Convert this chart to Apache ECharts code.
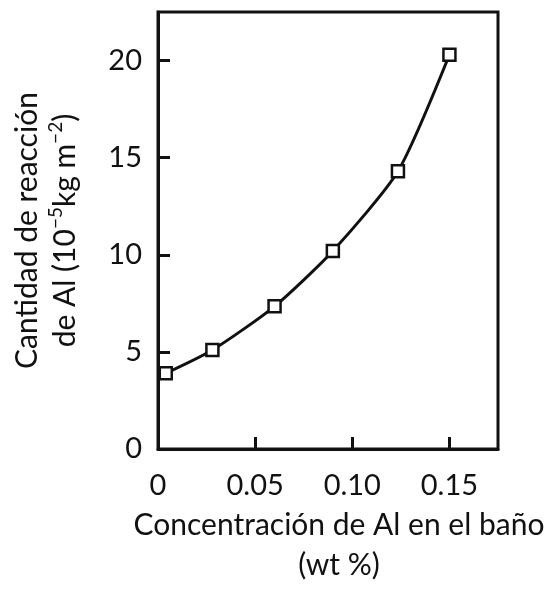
<!DOCTYPE html>
<html>
<head>
<meta charset="utf-8">
<script src="https://cdn.jsdelivr.net/npm/echarts@6/dist/echarts.min.js"></script>
<style>
  html, body { margin: 0; padding: 0; background: #fff; }
  #chart { width: 556px; height: 590px; }
</style>
</head>
<body>
<div id="chart"></div>
<script>
// Al concentration in the bath (wt %) and amount of Al reacted (10^-5 kg m^-2)
const alConcentration = [0.004, 0.028, 0.060, 0.090, 0.1235, 0.150];
const alReacted = [3.9, 5.1, 7.35, 10.2, 14.3, 20.3];
const xTicks = [0, 0.05, 0.10, 0.15];
const yTicks = [0, 5, 10, 15, 20];

const FONT = 'Lato';
const chart = echarts.init(document.getElementById('chart'), null, { renderer: 'canvas' });

chart.setOption({
  backgroundColor: '#ffffff',
  animation: false,
  grid: {
    left: 158, right: 58, top: 12, bottom: 134,
    show: true, borderColor: '#111', borderWidth: 3, backgroundColor: 'transparent'
  },
  xAxis: {
    type: 'value',
    min: 0, max: 0.175, interval: 0.05,
    axisLine: { show: true, lineStyle: { color: '#111', width: 3 } },
    axisTick: { show: true, inside: true, length: 12, lineStyle: { color: '#111', width: 3 } },
    splitLine: { show: false },
    axisLabel: {
      showMaxLabel: false,
      margin: 22,
      color: '#111', fontFamily: FONT, fontSize: 29,
      formatter: v => (xTicks.includes(+v.toFixed(2)) ? (v === 0 ? '0' : v.toFixed(2)) : '')
    },
    name: 'Concentración de Al en el baño\n(wt %)',
    nameLocation: 'middle',
    nameGap: 52,
    nameTextStyle: {
      color: '#111', fontFamily: FONT, fontSize: 30, lineHeight: 40,
      verticalAlign: 'top', padding: [0, 0, 0, 22]
    }
  },
  yAxis: {
    type: 'value',
    min: 0, max: 22.5, interval: 5,
    axisLine: { show: true, lineStyle: { color: '#111', width: 3 } },
    axisTick: { show: true, inside: true, length: 12, lineStyle: { color: '#111', width: 3 } },
    splitLine: { show: false },
    axisLabel: {
      showMaxLabel: false,
      margin: 16,
      color: '#111', fontFamily: FONT, fontSize: 29,
      formatter: v => (yTicks.includes(v) ? String(v) : '')
    },
    name: '{n|Cantidad de reacción}\n{n|de Al (10}{s|−5}{n|kg m}{s|−2}{n|)}',
    nameLocation: 'middle',
    nameRotate: 90,
    nameGap: 74,
    nameTextStyle: {
      color: '#111', fontFamily: FONT, fontSize: 30,
      rich: {
        n: { fontFamily: FONT, fontSize: 30, lineHeight: 38, color: '#111' },
        s: { fontFamily: FONT, fontSize: 19, lineHeight: 38, color: '#111', verticalAlign: 'top', padding: [0, 0, 10, 0] }
      }
    }
  },
  series: [{
    type: 'line',
    data: alConcentration.map((x, i) => [x, alReacted[i]]),
    smooth: 0.22,
    symbol: 'rect',
    symbolSize: 12,
    showSymbol: true,
    lineStyle: { color: '#111', width: 3 },
    itemStyle: { color: '#ffffff', borderColor: '#111', borderWidth: 2.5 },
    z: 3
  }]
});
</script>
</body>
</html>
